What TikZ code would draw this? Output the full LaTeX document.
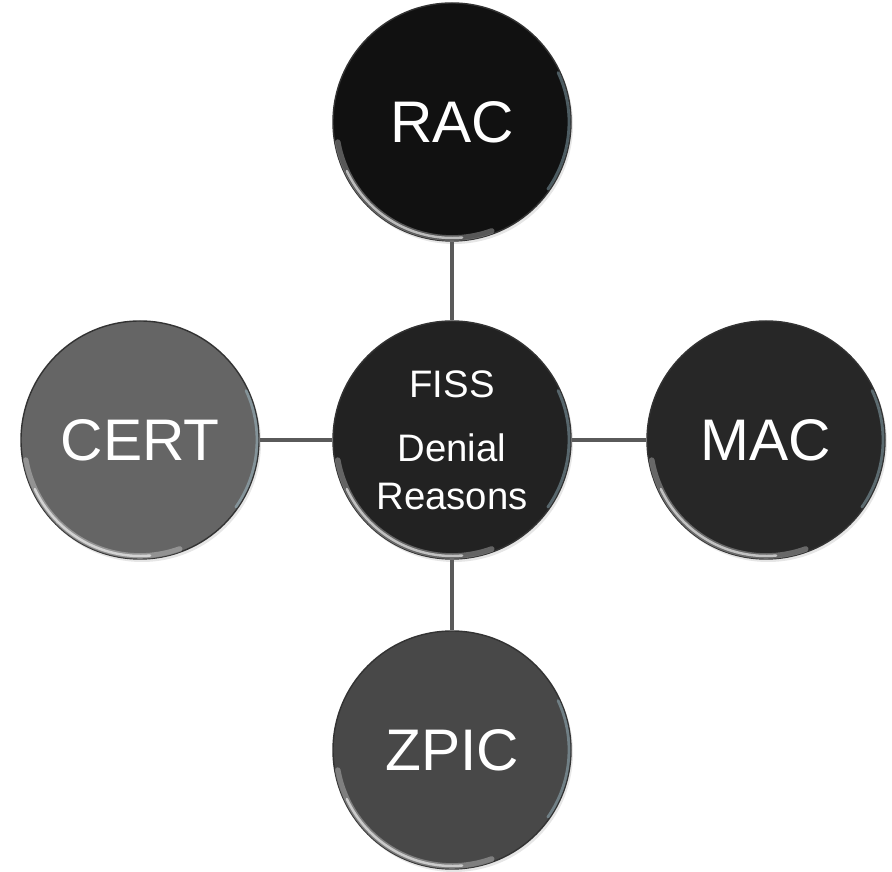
\documentclass[tikz,border=0pt]{standalone}
\usepackage{fontspec}
\setmainfont{Liberation Sans}
\usepackage{xcolor}
\usepackage{tikz}
\usetikzlibrary{shadows}

\definecolor{racfill}{HTML}{111111}
\definecolor{fissfill}{HTML}{222222}
\definecolor{macfill}{HTML}{272727}
\definecolor{zpicfill}{HTML}{484848}
\definecolor{certfill}{HTML}{656565}
\definecolor{linkgray}{HTML}{5A5A5A}

\begin{document}
\begin{tikzpicture}[every node/.style={text=white},
  disc/.style={circle, minimum size=2.38cm, inner sep=0pt, draw=black!80, line width=0.4pt,
    drop shadow={opacity=0.2, shadow xshift=0.02cm, shadow yshift=-0.03cm}},
  big/.style={font=\fontsize{16.7}{20}\selectfont},
  small/.style={font=\fontsize{10.9}{13.7}\selectfont, align=center},
  link/.style={linkgray, line width=0.9pt}]
\useasboundingbox (0,0) rectangle (8.92,8.72);
% discs
\node[disc, fill=racfill, big] (rac) at (4.52,7.50) {RAC};
\node[disc, fill=certfill, big] (cert) at (1.40,4.32) {CERT};
\node[disc, fill=fissfill, small] (fiss) at (4.52,4.32) {FISS\\[0.16cm]Denial\\Reasons};
\node[disc, fill=macfill, big] (mac) at (7.66,4.32) {MAC};
\node[disc, fill=zpicfill, big] (zpic) at (4.52,1.22) {ZPIC};
% connectors
\draw[link] (fiss) -- (rac);
\draw[link] (fiss) -- (cert);
\draw[link] (fiss) -- (mac);
\draw[link] (fiss) -- (zpic);
% glossy rims
\foreach \n in {rac,cert,fiss,mac,zpic} {
  \draw[white, opacity=0.3, line width=1.6pt, line cap=round]
    ([shift={(190:1.16)}]\n.center) arc[start angle=190, end angle=290, radius=1.16];
  \draw[white, opacity=0.6, line width=0.7pt, line cap=round]
    ([shift={(205:1.16)}]\n.center) arc[start angle=205, end angle=275, radius=1.16];
  \draw[white!75!cyan, opacity=0.35, line width=0.8pt, line cap=round]
    ([shift={(-35:1.17)}]\n.center) arc[start angle=-35, end angle=25, radius=1.17];
}
\end{tikzpicture}
\end{document}
